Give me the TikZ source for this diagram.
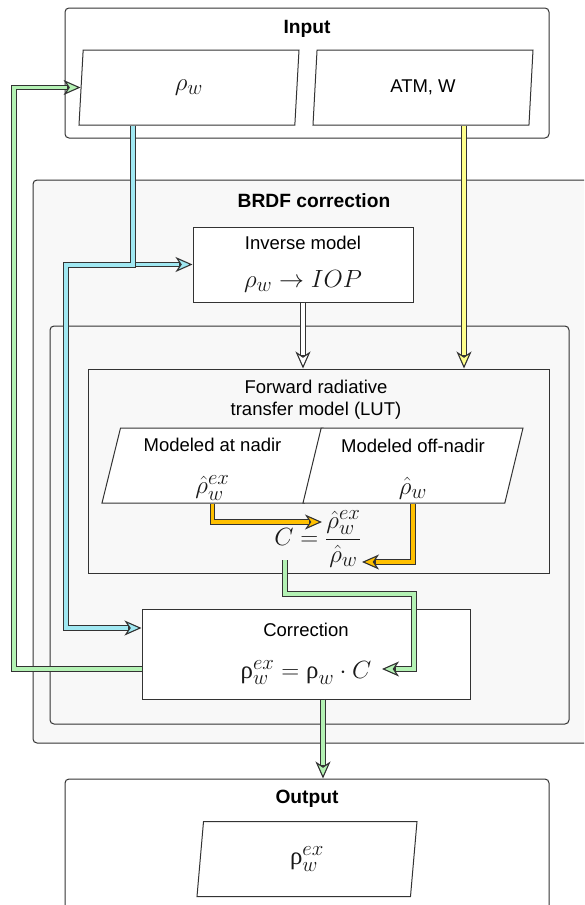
\documentclass[tikz,border=0pt]{standalone}
\usepackage{amsmath}
\usepackage{fontspec}
\setmainfont{Liberation Sans}
\newfontfamily\rhofont{Liberation Serif}
\usetikzlibrary{positioning,calc,shapes.geometric,arrows.meta}
\definecolor{edgegray}{RGB}{51,51,51}
\definecolor{panelgray}{RGB}{248,248,248}
\definecolor{pipecyan}{RGB}{160,232,242}
\definecolor{pipegreen}{RGB}{180,242,180}
\definecolor{pipeyellow}{RGB}{255,255,140}
\definecolor{pipeorange}{RGB}{255,192,0}
\newcommand{\mathbig}{\fontsize{24.88}{30}\selectfont\color{black!90}}
\newcommand{\rhoup}{\mbox{\rhofont ρ}}

\begin{document}
\begin{tikzpicture}[x=1pt, y=-1pt,
  font=\fontsize{18.5}{22}\selectfont,
  panel/.style={draw=edgegray, line width=1pt, rounded corners=4pt},
  title/.style={font=\fontsize{19.2}{22}\selectfont\bfseries},
  block/.style={draw=edgegray, line width=1pt, fill=white, align=center, inner sep=0pt},
  para/.style={trapezium, trapezium left angle=75, trapezium right angle=105, trapezium stretches body,
    draw=edgegray, line width=1pt, fill=white, align=center, inner sep=0pt, minimum width=220pt, minimum height=75pt},
  pipe/.style={draw=edgegray, line width=5.4pt,
    -{Stealth[length=17pt, width=15pt, inset=5pt, fill=#1, line width=1.1pt]},
    postaction={draw=#1, line width=3.2pt, arrows=-, shorten >=13.5pt}}
]
  \useasboundingbox (0,0) rectangle (584,905);
  \clip (0,0) rectangle (584,905);

  % BRDF correction panel
  \node[panel, fill=panelgray, minimum width=562pt, minimum height=563pt] (brdf) at (314,461.5) {};
  \node[title] (brdftitle) at (314,201) {BRDF correction};
  \node[panel, fill=panelgray, minimum width=519pt, minimum height=398pt] (inner) at (309.5,525) {};
  \node[block, fill=panelgray, minimum width=461pt, minimum height=204pt] (forward) at (318.5,471) {};
  \node[align=center] (fwdtitle) at (316,400) {Forward radiative\\transfer model (LUT)};
  \node[para, minimum width=221pt] (nadir) at (212.5,465.5) {\rule{0pt}{21pt}Modeled at nadir\\[20pt]{\mathbig$\hat{\rho}^{ex}_w$}};
  \node[para] (offnadir) at (413,465.5) {\rule{0pt}{21pt}Modeled off-nadir\\[20pt]{\mathbig$\hat{\rho}_w$}};
  \node (cform) at (318,539) {\mathbig$C=\dfrac{\hat{\rho}^{ex}_w}{\hat{\rho}_w}$};
  \node[block, minimum width=220pt, minimum height=75pt] (inverse) at (303,264.5) {Inverse model\\[16pt]{\mathbig$\rho_w\rightarrow IOP$}};
  \node[block, minimum width=328pt, minimum height=90pt] (correction) at (306,654) {Correction\\[20pt]{\mathbig$\rhoup^{ex}_w=\rhoup_w\cdot C$}};

  % input and output
  \node[panel, fill=white, minimum width=484pt, minimum height=130pt] (input) at (307,73) {};
  \node[title] (inputtitle) at (307,29) {Input};
  \node[para] (rhoin) at (189,87.5) {\mathbig$\rho_w$};
  \node[para] (atm) at (423,87.5) {ATM, W};
  \node[panel, fill=white, minimum width=484pt, minimum height=161pt] (output) at (307,859.5) {};
  \node[title] (outputtitle) at (307,799) {Output};
  \node[para] (outpara) at (307,859) {\mathbig$\rhoup^{ex}_w$};

  % bends
  \coordinate (cyanbend) at (66,265);
  \coordinate (numin) at (322,522);
  \coordinate (denin) at (362,562);
  \coordinate (cout) at (285,560);
  \coordinate (greenbend) at (414,594);
  \coordinate (greenin) at (382,669);
  \coordinate (loopbend) at (14,400);

  \draw[pipe=pipecyan] ([xshift=-56pt]rhoin.south) |- (inverse.west);
  \draw[pipe=pipecyan] ([xshift=-56pt]rhoin.south) |- (cyanbend) |- ([yshift=26pt]correction.west);
  \draw[pipe=pipeyellow] ([xshift=41pt]atm.south) -- ([xshift=41pt]atm.south |- forward.north);
  \draw[pipe=white] (inverse.south) -- (inverse.south |- forward.north);
  \draw[pipe=pipeorange] (nadir.south) |- (numin);
  \draw[pipe=pipeorange] (offnadir.south) |- (denin);
  \draw[pipe=pipegreen] (cout) |- (greenbend) |- (greenin);
  \draw[pipe=pipegreen] ([yshift=-15pt]correction.west) -| (loopbend) |- (rhoin.west);
  \draw[pipe=pipegreen] ([xshift=17pt]correction.south) -- ([xshift=17pt]correction.south |- output.north);
\end{tikzpicture}
\end{document}
